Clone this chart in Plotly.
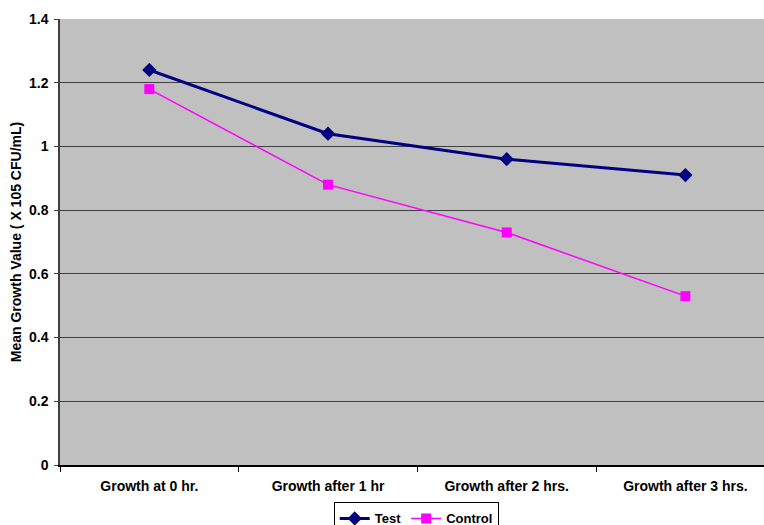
import plotly.graph_objects as go

# Sampling times and mean growth values (x 10^5 CFU/mL)
categories = ["Growth at 0 hr.", "Growth after 1 hr", "Growth after 2 hrs.", "Growth after 3 hrs."]
test_values = [1.24, 1.04, 0.96, 0.91]
control_values = [1.18, 0.88, 0.73, 0.53]
y_ticks = [0, 0.2, 0.4, 0.6, 0.8, 1.0, 1.2, 1.4]
y_tick_text = ["0", "0.2", "0.4", "0.6", "0.8", "1", "1.2", "1.4"]

font_family = "Liberation Sans, Arial, sans-serif"
bold = dict(family=font_family, weight="bold", color="black")

fig = go.Figure()
fig.add_trace(go.Scatter(
    x=categories, y=test_values, name="Test", mode="lines+markers",
    line=dict(color="#000080", width=3),
    marker=dict(symbol="diamond", size=11, color="#000080"),
))
fig.add_trace(go.Scatter(
    x=categories, y=control_values, name="Control", mode="lines+markers",
    line=dict(color="#FF00FF", width=1.5),
    marker=dict(symbol="square", size=10, color="#FF00FF"),
))

fig.update_layout(
    width=764, height=525,
    margin=dict(l=60, r=0, t=19, b=60, autoexpand=False),
    paper_bgcolor="white",
    plot_bgcolor="#C0C0C0",
    font=dict(family=font_family, size=14, color="black"),
    showlegend=True,
    legend=dict(
        orientation="h", x=0.506, xanchor="center",
        y=-0.084, yanchor="top",
        bordercolor="black", borderwidth=1, bgcolor="white",
        font=dict(size=13, **bold), itemwidth=30, tracegroupgap=0,
    ),
    xaxis=dict(
        type="category", range=[-0.5, 3.44], tickson="boundaries",
        ticks="outside", ticklen=5, tickcolor="black",
        showgrid=False, showline=True, linecolor="black", linewidth=1.5,
        tickfont=dict(size=14, **bold), ticklabelstandoff=7,
    ),
    yaxis=dict(
        range=[0, 1.4], tickvals=y_ticks, ticktext=y_tick_text,
        ticks="outside", ticklen=4, tickcolor="#404040",
        showgrid=True, gridcolor="#404040", gridwidth=1,
        showline=True, linecolor="#404040", linewidth=1.5,
        zeroline=False, tickfont=dict(size=14, **bold), ticklabelstandoff=3,
        title=dict(text="Mean Growth Value ( X 105 CFU/mL)", font=dict(size=14, **bold), standoff=4),
    ),
)

fig.write_html("out.html")
